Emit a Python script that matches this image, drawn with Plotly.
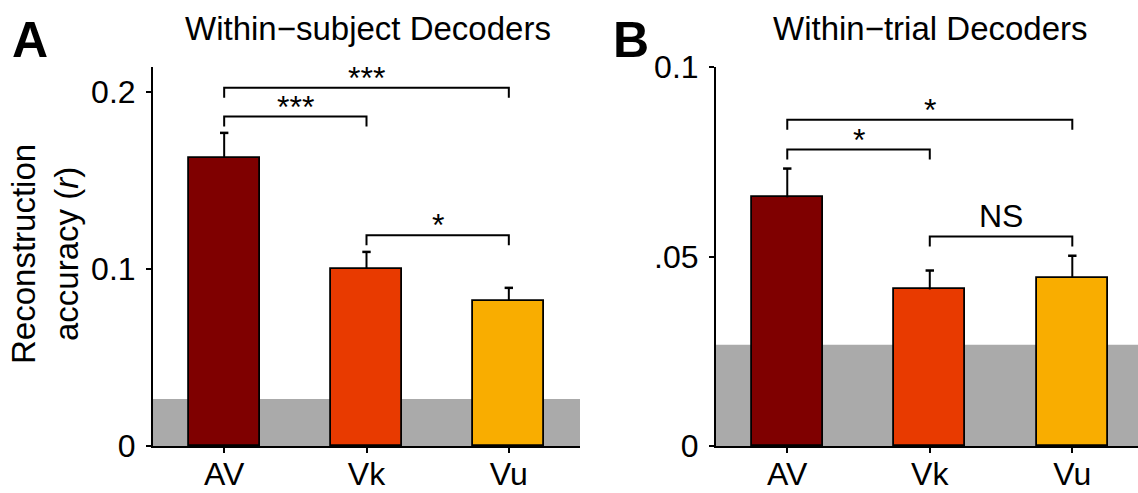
import plotly.graph_objects as go
from plotly.subplots import make_subplots

# Decoder conditions and their colours
categories = ["AV", "Vk", "Vu"]
bar_colors = ["#7f0000", "#e83a00", "#f9ad00"]

# Within-subject decoders: mean reconstruction accuracy (r) and SEM
subject_mean = [0.1627, 0.1000, 0.0819]
subject_sem = [0.0141, 0.0096, 0.0074]
subject_chance = 0.0266

# Within-trial decoders: mean reconstruction accuracy (r) and SEM
trial_mean = [0.0656, 0.0413, 0.0444]
trial_sem = [0.0076, 0.0050, 0.0058]
trial_chance = 0.0267

# Pairwise comparisons: (from, to, bracket height, significance label)
subject_pairs = [("AV", "Vu", 0.2023, "***"),
                 ("AV", "Vk", 0.1860, "***"),
                 ("Vk", "Vu", 0.1190, "*")]
trial_pairs = [("AV", "Vu", 0.0861, "*"),
               ("AV", "Vk", 0.0782, "*"),
               ("Vk", "Vu", 0.0553, "NS")]

subject_ticks = [0, 0.1, 0.2]
subject_ticktext = ["0", "0.1", "0.2"]
trial_ticks = [0, 0.05, 0.1]
trial_ticktext = ["0", ".05", "0.1"]

W, H = 1138, 493
FONT = "Liberation Sans, Arial, Helvetica, sans-serif"
FS = 32
FS_TITLE = 33

fig = make_subplots(rows=1, cols=2)

xpos = list(range(len(categories)))
idx = {c: i for i, c in enumerate(categories)}

panels = [
    dict(col=1, mean=subject_mean, sem=subject_sem, chance=subject_chance,
         pairs=subject_pairs, yrange=[0, 0.214], ticks=subject_ticks,
         ticktext=subject_ticktext, dom=[153 / W, 580 / W], xr=[-0.5, 2.5],
         title="Within\u2212subject Decoders", title_x=368 / W,
         letter="A", letter_x=10 / W),
    dict(col=2, mean=trial_mean, sem=trial_sem, chance=trial_chance,
         pairs=trial_pairs, yrange=[0, 0.1], ticks=trial_ticks,
         ticktext=trial_ticktext, dom=[716 / W, 1.0], xr=[-0.5, 2.461],
         title="Within\u2212trial Decoders", title_x=930 / W,
         letter="B", letter_x=611 / W),
]

ydom = [(H - 446) / H, (H - 67) / H]
plot_px_h = 446 - 67

for p in panels:
    c = p["col"]
    xa = "x" if c == 1 else "x2"
    ya = "y" if c == 1 else "y2"

    fig.add_trace(go.Bar(
        x=xpos, y=p["mean"], width=0.5,
        marker=dict(color=bar_colors, line=dict(color="black", width=1.8)),
        showlegend=False, hoverinfo="skip"), row=1, col=c)

    # upper error bars: stem from bar top to mean + SEM, capped at the top
    tops = [m + s for m, s in zip(p["mean"], p["sem"])]
    sx, sy = [], []
    for i, (m, t) in enumerate(zip(p["mean"], tops)):
        sx += [i, i, None]
        sy += [m, t, None]
    fig.add_trace(go.Scatter(x=sx, y=sy, mode="lines",
                             line=dict(color="black", width=2),
                             showlegend=False, hoverinfo="skip"),
                  row=1, col=c)
    fig.add_trace(go.Scatter(x=xpos, y=tops, mode="markers",
                             marker=dict(symbol="line-ew", size=6,
                                         line=dict(color="black", width=2.5)),
                             showlegend=False, hoverinfo="skip"),
                  row=1, col=c)

    # chance-level band behind the bars
    fig.add_shape(type="rect", xref=f"{xa} domain", yref=ya,
                  x0=0, x1=1, y0=0, y1=p["chance"],
                  fillcolor="#aaaaaa", line=dict(width=0), layer="below")

    # significance brackets
    drop = 10 * (p["yrange"][1] - p["yrange"][0]) / plot_px_h
    for a, b, h, lab in p["pairs"]:
        i, j = idx[a], idx[b]
        fig.add_trace(go.Scatter(
            x=[i, i, j, j], y=[h - drop, h, h, h - drop], mode="lines",
            line=dict(color="black", width=2), showlegend=False,
            hoverinfo="skip", cliponaxis=False), row=1, col=c)
        fig.add_annotation(x=(i + j) / 2, y=h, xref=xa, yref=ya, text=lab,
                           showarrow=False, yanchor="bottom",
                           xanchor="center",
                           yshift=(-10 if lab != "NS" else 0),
                           font=dict(family=FONT, size=FS, color="black"))

    fig.update_xaxes(row=1, col=c, domain=p["dom"], range=p["xr"],
                     tickvals=xpos, ticktext=categories, ticks="outside",
                     ticklen=5, tickwidth=1.5, tickcolor="black",
                     showline=True, linecolor="black", linewidth=2,
                     showgrid=False, zeroline=False, automargin=False,
                     ticklabelstandoff=-6,
                     tickfont=dict(family=FONT, size=FS, color="black"))
    fig.update_yaxes(row=1, col=c, domain=ydom, range=p["yrange"],
                     tickvals=p["ticks"], ticktext=p["ticktext"],
                     ticks="outside", ticklen=5, tickwidth=1.5,
                     tickcolor="black", showline=True, linecolor="black",
                     linewidth=2, showgrid=False, zeroline=False,
                     ticklabelstandoff=4, automargin=False,
                     tickfont=dict(family=FONT, size=FS, color="black"))

    fig.add_annotation(x=p["title_x"], y=(H - 28) / H, xref="paper",
                       yref="paper", text=p["title"], showarrow=False,
                       xanchor="center", yanchor="middle",
                       font=dict(family=FONT, size=FS_TITLE, color="black"))
    fig.add_annotation(x=p["letter_x"], y=(H - 40) / H, xref="paper",
                       yref="paper", text=f"<b>{p['letter']}</b>",
                       showarrow=False, xanchor="left", yanchor="middle",
                       font=dict(family=FONT, size=50, color="black"))

fig.add_annotation(x=45 / W, y=(H - 254) / H, xref="paper", yref="paper",
                   text="Reconstruction<br>accuracy (<i>r</i>)",
                   textangle=-90, showarrow=False,
                   xanchor="center", yanchor="middle",
                   font=dict(family=FONT, size=FS_TITLE, color="black"))

fig.update_layout(width=W, height=H, margin=dict(l=0, r=0, t=0, b=0),
                  plot_bgcolor="white", paper_bgcolor="white", bargap=0)

fig.write_html("out.html")
